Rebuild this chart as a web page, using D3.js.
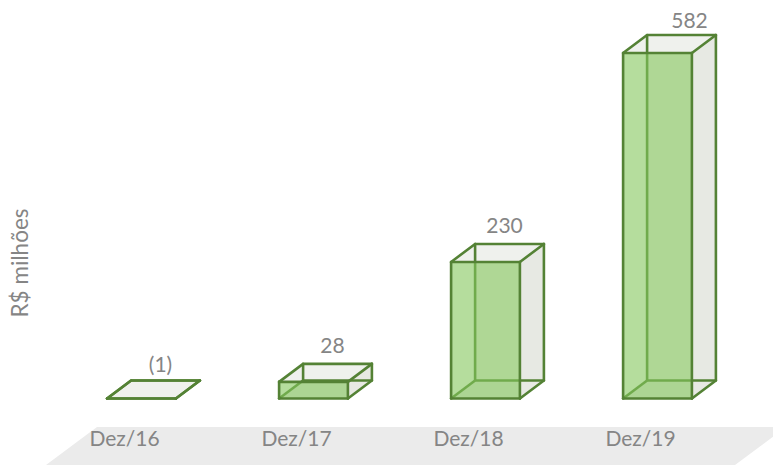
<!DOCTYPE html>
<html>
<head>
<meta charset="utf-8">
<script src="https://cdn.jsdelivr.net/npm/d3@7"></script>
<style>
  html, body { margin: 0; padding: 0; background: #fff; overflow: hidden; }
  text { font-family: Lato, "Open Sans", sans-serif; fill: #858585; }
</style>
</head>
<body>
<div id="chart"></div>
<script>
// Data
const categories = ["Dez/16", "Dez/17", "Dez/18", "Dez/19"];
const values = [-1, 28, 230, 582];
const valueLabels = ["(1)", "28", "230", "582"];

const width = 773;
const height = 465;
const baseY = 398.5;
const depthX = 24;   // 3D depth of the boxes
const depthY = -18;

const stroke = "#548235";

const svg = d3.select("#chart").append("svg")
    .attr("width", width)
    .attr("height", height)
    .style("display", "block");

const x = d3.scaleBand()
    .domain(categories)
    .range([55.5, 743.5])
    .paddingInner(0.6)
    .paddingOuter(0.3);

// clamp: the negative value stays a flat slab on the floor
const y = d3.scaleLinear()
    .domain([0, 582])
    .range([baseY, 53])
    .clamp(true);

// Grey floor behind the tick labels
svg.append("path")
    .attr("d", "M97,427L786,427L735,465L46,465Z")
    .attr("fill", "#ebebeb");

function poly(pts) {
    return "M" + pts.map(p => p.join(",")).join("L") + "Z";
}

const bars = svg.selectAll("g.bar")
    .data(categories.map((c, i) => ({ cat: c, value: values[i], label: valueLabels[i] })))
    .join("g")
    .attr("class", "bar");

bars.each(function (d, i) {
    const g = d3.select(this);
    const x0 = x(d.cat);
    const x1 = x0 + x.bandwidth();
    const yt = y(d.value);
    const yb = y(0);
    const dx = depthX, dy = depthY;

    // the eight corners of the box
    const ftl = [x0, yt], ftr = [x1, yt], fbl = [x0, yb], fbr = [x1, yb];
    const btl = [x0 + dx, yt + dy], btr = [x1 + dx, yt + dy];
    const bbl = [x0 + dx, yb + dy], bbr = [x1 + dx, yb + dy];

    // face fills first, with no outline so nothing hides the edges behind them
    const faces = [
        { pts: [btl, btr, bbr, bbl], fill: "#eff1ec" },
        { pts: [fbl, fbr, bbr, bbl], fill: "#e9ece5" },
        { pts: [ftr, btr, bbr, fbr], fill: "#e7e9e3" },
        { pts: [ftl, ftr, btr, btl], fill: "#eff1ed" }
    ];

    g.selectAll("path.face")
        .data(faces)
        .join("path")
        .attr("class", "face")
        .attr("d", f => poly(f.pts))
        .attr("fill", f => f.fill);

    // edges that run behind the front face
    const hidden = [[bbl, btl], [bbl, bbr], [bbl, fbl]];
    g.selectAll("line.hidden")
        .data(hidden)
        .join("line")
        .attr("class", "hidden")
        .attr("x1", e => e[0][0])
        .attr("y1", e => e[0][1])
        .attr("x2", e => e[1][0])
        .attr("y2", e => e[1][1])
        .attr("stroke", stroke)
        .attr("stroke-width", 2.6);

    // translucent front face
    g.append("path")
        .attr("d", poly([ftl, ftr, fbr, fbl]))
        .attr("fill", "#84c65b")
        .attr("fill-opacity", 0.6);

    // visible edges on top
    const edges = [[ftl, ftr], [ftr, fbr], [fbr, fbl], [fbl, ftl],
                   [ftl, btl], [btl, btr], [btr, ftr], [btr, bbr], [bbr, fbr]];
    g.selectAll("line.edge")
        .data(edges)
        .join("line")
        .attr("class", "edge")
        .attr("x1", e => e[0][0])
        .attr("y1", e => e[0][1])
        .attr("x2", e => e[1][0])
        .attr("y2", e => e[1][1])
        .attr("stroke", stroke)
        .attr("stroke-width", 2.6)
        .attr("stroke-linecap", "round");

    // value label above the back of the box; the tallest one sits further right and lower
    const last = i === categories.length - 1;
    const gap = last ? 7 : (i === 0 ? 9 : 11);
    g.append("text")
        .attr("x", x0 + x.bandwidth() / 2 + (last ? 32 : 19))
        .attr("y", yt + dy - gap)
        .attr("text-anchor", "middle")
        .style("font-size", "21px")
        .text(d.label);
});

// Category labels
const axis = d3.axisBottom(x).tickSize(0).tickPadding(0);
svg.append("g")
    .attr("transform", "translate(-17,431)")
    .call(axis)
    .call(g => g.select(".domain").remove())
    .selectAll("text")
    .attr("font-family", null)
    .style("font-size", "21px");

// Y axis title
svg.append("text")
    .attr("transform", "translate(28,263) rotate(-90)")
    .attr("text-anchor", "middle")
    .style("font-size", "22.5px")
    .text("R$ milhões");
</script>
</body>
</html>
